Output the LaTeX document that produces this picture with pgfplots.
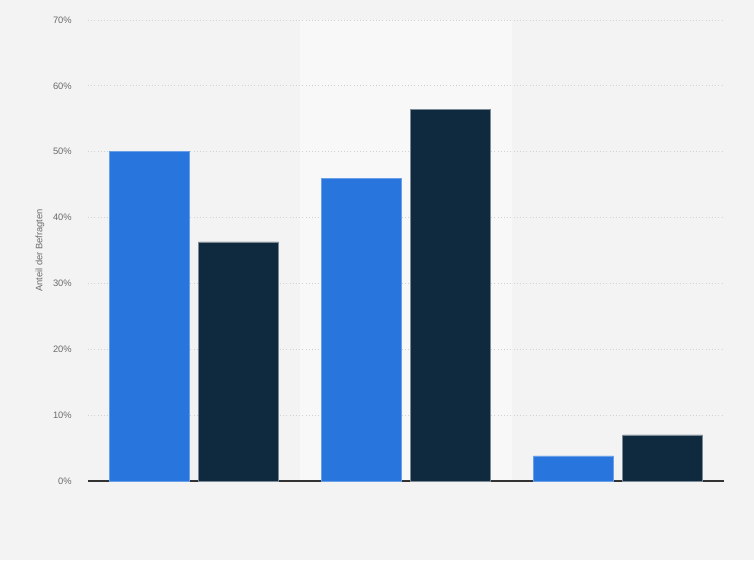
\documentclass[border=0pt]{standalone}
\usepackage{fontspec}
\setmainfont{Liberation Sans}
\usepackage{pgfplots}
\pgfplotsset{compat=1.18}
\definecolor{bg}{HTML}{F3F3F3}
\definecolor{band}{HTML}{F8F8F8}
\definecolor{barblue}{HTML}{2876DD}
\definecolor{barnavy}{HTML}{0F2A3F}
\definecolor{gridc}{HTML}{D2D2D2}
\definecolor{tickc}{HTML}{6B6B6B}

\begin{document}
\begin{tikzpicture}
\begin{axis}[
    set layers,
    clip=false,
    at={(66pt,59.25pt)}, anchor=south west,
    scale only axis,
    width=477pt, height=345.75pt,
    xmin=-0.5, xmax=2.5,
    ymin=0, ymax=70,
    ybar=6.75pt, bar width=60pt,
    axis lines=left,
    axis line style={-},
    y axis line style={draw=none},
    x axis line style={draw=black!80, line width=0.8pt},
    xtick=\empty,
    ytick={0,10,...,70},
    major tick length=0pt,
    ymajorgrids,
    grid style={gridc, dotted, line width=0.7pt},
    yticklabel={\pgfmathprintnumber[assume math mode=true]{\tick}\%},
    yticklabel style={font=\fontsize{7}{8}\selectfont, text=tickc, inner sep=0pt, xshift=-12pt},
    ylabel={Anteil der Befragten},
    every axis y label/.style={at={(axis description cs:-0.0755,0.5)}, rotate=90, anchor=center,
        font=\fontsize{7}{8}\selectfont, text=tickc},
]
\begin{pgfonlayer}{axis background}
% whole picture background, then the lighter band behind the middle group
\fill[bg] (rel axis cs:-0.138365,-0.171367) rectangle (rel axis cs:1.047170,1.043384);
\fill[band] (axis cs:0.5,0) rectangle (axis cs:1.5,70);
\end{pgfonlayer}
\addplot[fill=barblue, draw=barblue!70!white, line width=0.4pt] coordinates {
    (0, 50.0)
    (1, 46.0)
    (2, 3.8)
};
\addplot[fill=barnavy, draw=barnavy!55!white, line width=0.4pt] coordinates {
    (0, 36.3)
    (1, 56.4)
    (2, 7.0)
};
\end{axis}
\end{tikzpicture}
\end{document}
